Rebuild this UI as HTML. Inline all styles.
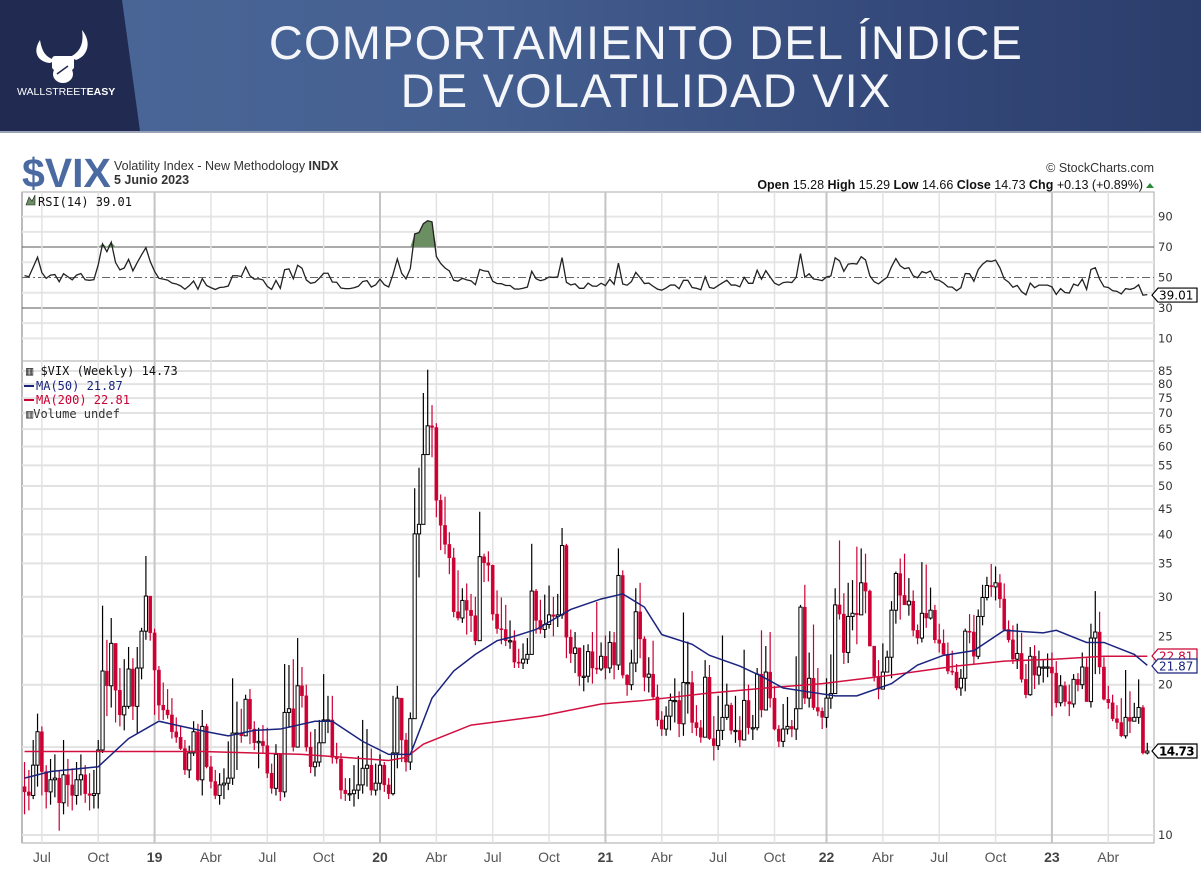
<!DOCTYPE html>
<html><head><meta charset="utf-8">
<style>
html,body{margin:0;padding:0;background:#fff;}
body{width:1201px;height:872px;position:relative;overflow:hidden;font-family:"Liberation Sans",sans-serif;}
#hdr{position:absolute;left:0;top:0;width:1201px;height:131px;background:linear-gradient(90deg,#4b6799 0%,#445f90 40%,#34497a 75%,#2b3d6b 100%);}
#hdrline{position:absolute;left:0;top:131px;width:1201px;height:2px;background:#9aa3b5;}
.t{position:absolute;left:0;width:1292px;text-align:center;color:#f4f6fa;font-size:47px;letter-spacing:1.2px;white-space:nowrap;}
</style></head>
<body>
<div id="hdr">
  <svg width="1201" height="131" style="position:absolute;left:0;top:0">
    <polygon points="0,0 122,0 140,131 0,131" fill="#212b51"/>
    <path d="M40,40 C32,52 38,62 50,63 L56,60 C46,58 42,52 40,40 Z" fill="#fff"/>
    <path d="M82,30 C92,42 88,56 76,60 L70,57 C80,52 84,44 82,30 Z" fill="#fff"/>
    <rect x="52" y="56" width="22" height="14" rx="3" fill="#fff"/>
    <ellipse cx="63" cy="74" rx="10" ry="9" fill="#fff"/>
    <path d="M57,74 L68,66" stroke="#212b51" stroke-width="1.5"/>
    <text x="17" y="95" font-family="Liberation Sans, sans-serif" font-size="10.5" fill="#fff">WALLSTREET<tspan font-weight="bold">EASY</tspan></text>
  </svg>
  <div class="t" style="top:15px">COMPORTAMIENTO DEL ÍNDICE</div>
  <div class="t" style="top:63px">DE VOLATILIDAD VIX</div>
</div>
<div id="hdrline"></div>

<svg id="chart" width="1201" height="872" style="position:absolute;left:0;top:0" font-family="Liberation Sans, sans-serif">
  <text x="22" y="187" font-size="41" font-weight="bold" fill="#4a6aa1">$VIX</text>
  <text x="114" y="170" font-size="12.5" fill="#333">Volatility Index - New Methodology  <tspan font-weight="bold">INDX</tspan></text>
  <text x="114" y="184" font-size="12.5" font-weight="bold" fill="#333">5 Junio 2023</text>
  <text x="1154" y="172" font-size="12.5" text-anchor="end" fill="#333">© StockCharts.com</text>
  <text x="1143" y="189" font-size="12.5" text-anchor="end" fill="#111"><tspan font-weight="bold">Open</tspan> 15.28  <tspan font-weight="bold">High</tspan> 15.29  <tspan font-weight="bold">Low</tspan> 14.66  <tspan font-weight="bold">Close</tspan> 14.73  <tspan font-weight="bold">Chg</tspan> +0.13 (+0.89%)</text>
  <polygon points="1146,188 1154,188 1150,183" fill="#2a8a3a"/>
  <g id="grid"></g>
  <g id="rsi"></g>
  <g id="price"></g>
  <g id="axes"></g>
</svg>

<script>
// ===== DATA (weekly, Jun 2018 – Jun 2023) =====
const closes = [
12.2,12.0,13.8,16.1, 13.4,12.2,12.9,13.0, 11.6,13.2,12.6,12.0,12.9, 13.2,12.1,12.0,12.1, 14.8,21.3,19.9,24.2, 19.5,17.4,18.1,21.5,18.1, 21.6,25.6,30.1,25.4,
21.4,18.2,17.8,17.4, 16.1,15.7,14.9,13.5, 14.6,16.1,12.9,16.5,13.7, 12.8,12.0,12.6,12.7, 13.0,16.0,16.0,15.8,18.7, 16.3,15.3,15.4,15.1, 13.3,12.4,14.5,12.2, 17.6,17.9,15.0,19.9,19.0, 15.0,13.7,14.0,15.3, 17.0,17.0,14.3,14.2, 12.3,12.1,12.1,12.3,12.6, 13.6,13.8,12.3,12.7,
13.8,12.6,12.1,14.6,18.8, 15.5,14.0,17.1,40.1, 41.9,57.8,66.0,65.5, 46.8,41.7,38.2,35.9, 28.0,27.2,29.5,28.2,27.5, 24.5,36.1,35.1,34.7, 27.7,25.9,25.8,24.5,24.5, 22.2,22.1,22.5,23.0, 30.8,26.9,25.8,26.4, 27.6,27.4,27.6,38.0, 24.9,23.1,23.7,20.8, 20.8,23.3,21.6,21.5,22.8,
21.6,24.3,21.9,33.1, 20.9,20.0,22.1,28.0, 24.7,20.7,21.0,18.9, 17.0,16.3,17.3,18.6,18.6, 16.7,20.2,20.2,16.8, 16.4,15.7,20.7,15.6, 15.1,16.2,17.2,18.2,16.2, 16.2,15.5,18.6,16.4, 16.4,21.0,17.8,21.2, 18.8,16.3,15.4,16.3, 16.5,16.3,17.9,28.6, 18.8,20.6,18.0,17.7,17.2,
18.8,19.2,28.9,27.7, 23.2,27.4,27.8,27.6, 32.0,30.8,23.9,20.8, 19.6,21.2,22.7,28.2,33.4, 30.2,28.9,29.4,25.7, 24.8,27.8,27.2,28.2, 24.6,24.2,23.0,21.3,21.2, 19.7,20.6,25.6,25.5, 22.8,27.4,29.9,31.6,31.4, 32.0,29.7,25.8,24.6, 22.5,23.1,20.5,19.1, 22.8,20.9,21.7,21.7,21.7,
21.1,18.4,19.9,18.5, 18.3,20.5,20.0,21.7, 18.5,24.8,25.5,21.7,18.7, 18.4,17.1,16.8,15.8, 17.2,16.9,17.2,18.0, 14.6,14.73
];
const highs = [
14.0,13.5,15.5,17.5, 16.5,13.8,14.2,14.5, 13.5,15.5,14.2,13.6,14.0, 14.5,13.8,13.3,13.5, 15.5,28.8,24.6,27.2, 22.4,21.6,22.5,23.8,22.6, 23.8,26.0,36.2,28.8,
25.9,21.8,20.2,19.6, 18.8,17.2,16.5,15.5, 15.1,16.9,16.7,17.8,16.7, 14.4,13.5,13.3,13.6, 15.4,20.6,18.5,17.9,19.1, 19.6,16.9,16.4,16.6, 16.4,13.9,15.2,14.2, 22.0,21.9,22.5,24.8,21.7, 20.0,16.1,16.3,17.0, 21.0,19.0,19.0,15.3, 14.6,13.0,13.0,13.8,14.4, 17.0,16.3,14.9,13.9,
14.5,14.0,13.0,19.0,19.9, 18.5,16.0,17.6,49.5, 54.4,76.8,85.5,72.6, 66.8,48.1,47.6,40.4, 37.6,33.9,31.2,31.9,30.4, 30.0,44.4,36.6,37.0, 34.8,30.9,29.9,28.9,26.9, 25.7,23.6,24.2,24.8, 38.3,31.1,29.6,30.3, 31.6,30.0,30.4,41.2, 38.3,25.8,25.5,23.7, 24.0,24.1,25.5,29.3,24.3,
25.1,25.6,25.5,37.5, 33.9,21.0,23.5,31.2, 32.0,25.0,22.7,24.5, 20.0,17.7,18.1,19.2,20.6, 19.4,27.9,24.4,21.3, 18.2,17.0,22.4,21.9, 17.3,19.0,25.1,20.1,18.4, 19.0,17.3,23.5,20.0, 17.4,21.6,25.7,23.9, 25.5,19.9,16.6,18.3, 18.9,17.0,22.8,28.9, 31.7,23.2,26.4,21.6,18.0,
20.6,23.0,31.2,38.9, 30.5,32.0,32.4,37.8, 37.5,36.6,31.0,23.9, 22.4,24.2,23.4,29.4,33.7, 35.8,36.6,32.7,30.9, 26.4,35.2,34.8,31.3, 28.9,26.5,25.8,24.3,23.4, 22.0,21.5,25.9,27.7, 27.6,28.3,31.7,32.9,34.9, 34.5,33.3,31.9,26.9, 26.3,26.5,25.4,22.0, 23.8,24.0,23.4,22.5,23.1,
23.2,22.3,20.9,20.3, 20.0,21.0,21.1,23.2, 22.6,26.5,30.8,28.0,22.7, 19.9,19.1,18.2,18.8, 21.4,19.4,18.4,20.5, 18.2,15.3
];
const lows = [
11.0,11.2,11.8,12.5, 12.0,11.3,11.5,11.9, 10.2,11.0,11.4,11.2,11.5, 12.0,11.6,11.2,11.3, 11.3,14.6,17.3,18.0, 16.8,16.5,16.2,17.9,17.0, 16.0,20.5,24.6,24.5,
17.4,17.0,17.0,17.1, 15.6,15.3,14.8,13.2, 13.0,14.4,12.8,12.0,13.6, 12.4,11.8,11.5,11.8, 12.3,12.6,13.5,15.3,15.8, 15.2,14.8,13.6,14.6, 13.0,12.1,12.0,11.7, 11.9,16.4,14.7,15.0,18.0, 14.7,13.3,13.1,13.7, 15.3,16.0,13.9,13.9, 11.8,11.7,11.7,11.4,11.8, 12.1,12.5,12.0,12.0,
12.3,12.2,11.8,12.0,13.6, 14.0,13.4,13.5,17.1, 32.8,41.9,62.1,57.1, 43.3,37.2,36.5,33.3, 27.3,26.9,26.6,25.2,25.5, 24.0,24.5,32.1,32.2, 26.9,25.3,24.1,23.9,23.6, 21.6,21.6,21.5,22.0, 23.1,25.3,25.3,24.8, 25.9,25.0,26.1,27.1, 22.6,22.1,21.1,19.9, 19.4,20.2,20.1,21.0,21.3,
20.5,21.1,20.5,21.4, 20.6,19.0,19.5,21.2, 22.6,19.4,19.3,18.7, 16.5,15.8,15.8,16.2,16.8, 15.7,15.8,17.5,16.0, 15.8,15.3,16.3,15.5, 14.1,14.8,15.5,17.0,15.9, 15.3,15.0,15.8,15.9, 15.5,16.2,17.2,17.8, 18.0,16.2,15.0,15.0, 15.9,15.7,15.5,18.0, 18.3,18.0,17.8,17.3,16.3,
16.4,17.9,20.4,27.0, 22.0,22.1,25.7,24.1, 29.6,27.8,24.4,20.3, 18.7,19.6,21.4,20.6,26.5, 27.0,28.9,27.5,25.0, 24.1,24.3,26.0,27.0, 24.2,23.2,23.0,21.0,20.9, 19.5,19.0,19.4,24.2, 22.0,22.5,26.3,29.5,30.0, 29.5,28.5,25.6,24.3, 22.0,21.5,20.2,18.8, 19.0,19.6,20.0,20.2,20.7,
17.3,18.0,18.1,18.1, 17.3,18.0,19.4,19.6, 18.5,18.0,21.0,21.0,18.6, 17.9,16.9,16.3,15.7, 15.6,16.0,16.9,16.7, 14.5,14.5
];
const firstOpen = 12.5;
// Moving averages (week index, value)
const ma50Week  = [0,6,17,24,31,35,42,47,53,59,67,71,78,84,89,94,99,104,109,113,118,126,133,138,143,147,154,158,165,170,175,180,187,192,200,206,212,219,226,235,238,245,249,256,259];
const ma50Val   = [13.0,13.4,13.7,15.6,16.9,16.6,16.1,15.8,16.2,16.3,16.9,16.9,15.4,14.5,14.5,18.8,21.3,23.0,24.5,25.0,25.8,28.3,29.7,30.4,28.6,25.2,24.1,22.9,21.8,20.8,19.7,19.4,19.0,19.0,20.1,21.9,22.9,23.4,25.7,25.4,25.7,24.3,24.3,23.0,21.87];
const ma200Week = [0,17,41,64,84,88,92,96,103,119,133,143,157,171,184,198,215,226,238,249,259];
const ma200Val  = [14.7,14.7,14.7,14.5,14.1,14.3,15.2,15.7,16.6,17.3,18.3,18.6,19.2,19.7,20.1,20.8,21.8,22.3,22.5,22.8,22.81];
// Axis ticks
const priceTicks = [10,15,20,25,30,35,40,45,50,55,60,65,70,75,80,85];
const priceLabels = [10,20,25,30,35,40,45,50,55,60,65,70,75,80,85];
const rsiTicks = [10,20,30,40,50,60,70,80,90];
const rsiLabels = [10,30,50,70,90];
const monthWeek  = [4,17,30,43,56,69,82,95,108,121,134,147,160,173,185,198,211,224,237,250];
const monthLabel = ["Jul","Oct","19","Abr","Jul","Oct","20","Abr","Jul","Oct","21","Abr","Jul","Oct","22","Abr","Jul","Oct","23","Abr"];

// ===== SCALES =====
const L=22, R=1154, RT=192, RB=361, PT=361, PB=843;
const xI = i => 380 + (i-82)*4.335;
const yP = v => 835 - 150.3*Math.log2(v/10);
const yR = v => 277.5 - (v-50)*1.5225;
const NS='http://www.w3.org/2000/svg';
function mk(tag, attrs, parent){const e=document.createElementNS(NS,tag);for(const k in attrs)e.setAttribute(k,attrs[k]);parent.appendChild(e);return e;}
const grid=document.getElementById('grid'), rsiG=document.getElementById('rsi'), priceG=document.getElementById('price'), axes=document.getElementById('axes');

let e;
e=mk('rect',{x:L,y:RT,width:R-L,height:RB-RT,fill:'#fff',stroke:'#aaa','stroke-width':1},grid);


e=mk('rect',{x:L,y:PT,width:R-L,height:PB-PT,fill:'#fff',stroke:'#aaa','stroke-width':1},grid);


mk('line',{x1:L,y1:RT,x2:L,y2:PB,stroke:'#bbb','stroke-width':2},grid);

rsiTicks.forEach(v=>{
  const y=yR(v);
  const dark=(v===30||v===70);
  e=mk('line',{x1:L,y1:y,x2:R,y2:y,stroke:dark?'#555':(v===50?'#666':'#e6e6e6'),'stroke-width':dark?1:(v===50?1:2),'stroke-dasharray':v===50?'8,3,2,3':'none'},grid);
  
  
});
priceTicks.forEach(v=>{
  const y=yP(v);
  e=mk('line',{x1:L,y1:y,x2:R,y2:y,stroke:'#e2e2e2','stroke-width':2},grid);
  
  
});
monthWeek.forEach((w,k)=>{
  const x=xI(w); const yr=/^\d/.test(monthLabel[k]);
  e=mk('line',{x1:x,y1:RT,x2:x,y2:PB,stroke:yr?'#c4c4c4':'#e2e2e2','stroke-width':yr?2:1.5},grid);
  
  
  e=mk('text',{x:x,y:862,'text-anchor':'middle','font-size':14,fill:yr?'#444':'#555','font-weight':yr?'bold':'normal'},axes);
  e.textContent=monthLabel[k];
  
  
});
rsiLabels.forEach(v=>{
  e=mk('text',{x:1158,y:yR(v)+4,'font-size':11.5,fill:'#333','font-family':'DejaVu Sans, sans-serif'},axes);
  e.textContent=v;
  
  
});
priceLabels.forEach(v=>{
  e=mk('text',{x:1158,y:yP(v)+4,'font-size':11.5,fill:'#333','font-family':'DejaVu Sans, sans-serif'},axes);
  e.textContent=v;
  
  
});

// ===== RSI (Wilder, seeded with average of first 14 moves) =====
const diffs=closes.map((c,i)=>c-(i===0?firstOpen:closes[i-1]));
let ag=0, al=0;
for(let i=0;i<14;i++){ag+=Math.max(diffs[i],0)/14; al+=Math.max(-diffs[i],0)/14;}
const rsi=[];
for(let i=0;i<closes.length;i++){
  const g=Math.max(diffs[i],0), l=Math.max(-diffs[i],0);
  ag=(ag*13+g)/14; al=(al*13+l)/14;
  rsi.push(al===0?100:100-100/(1+ag/al));
}
let seg=[]; const segs=[];
for(let i=0;i<rsi.length;i++){ if(rsi[i]>70){seg.push(i);} else if(seg.length){segs.push(seg);seg=[];} }
if(seg.length)segs.push(seg);
segs.forEach(s=>{
  const a=Math.max(s[0]-1,0), b=Math.min(s[s.length-1]+1,rsi.length-1);
  let pts=`${xI(a)},${yR(70)} `;
  for(let i=a+1;i<b;i++)pts+=`${xI(i)},${yR(rsi[i])} `;
  pts+=`${xI(b)},${yR(70)}`;
  e=mk('polygon',{points:pts,fill:'#6b8f62',stroke:'none'},rsiG);
  
  
});
e=mk('polyline',{points:rsi.map((v,i)=>`${xI(i)},${yR(v)}`).join(' '),fill:'none',stroke:'#222','stroke-width':1.3},rsiG);



// ===== Candles =====
for(let i=0;i<closes.length;i++){
  const o=i===0?firstOpen:closes[i-1], c=closes[i], h=highs[i], lo=lows[i];
  const x=xI(i); const up=c>=o; const col=up?'#000':'#cc0033';
  const g=mk('g',{},priceG);
  
  
  mk('line',{x1:x,y1:yP(h),x2:x,y2:yP(lo),stroke:col,'stroke-width':1.2},g);
  const yt=yP(Math.max(o,c)), yb=yP(Math.min(o,c));
  mk('rect',{x:x-1.6,y:yt,width:3.2,height:Math.max(yb-yt,1.2),fill:up?'#fff':col,stroke:col,'stroke-width':up?1:0.4},g);
}
e=mk('polyline',{points:ma200Week.map((w,k)=>`${xI(w)},${yP(ma200Val[k])}`).join(' '),fill:'none',stroke:'#d21040','stroke-width':1.5},priceG);


e=mk('polyline',{points:ma50Week.map((w,k)=>`${xI(w)},${yP(ma50Val[k])}`).join(' '),fill:'none',stroke:'#1a237e','stroke-width':1.5},priceG);



function tag(y,txt,col,bold,name){
  const g=mk('g',{},axes);
  
  
  mk('polygon',{points:`1152,${y} 1158,${y-7} 1197,${y-7} 1197,${y+7} 1158,${y+7}`,fill:'#fff',stroke:col,'stroke-width':1.2},g);
  const t=mk('text',{x:1159,y:y+4.5,'font-size':12,'font-weight':bold?'bold':'normal',fill:col,'font-family':'DejaVu Sans, sans-serif','letter-spacing':bold?-0.6:0},g);
  t.textContent=txt;
}
tag(yR(rsi[rsi.length-1])+0.5,'39.01','#000',false,'rsi-value-tag');
tag(656,'22.81','#cc0033',false,'ma200-value-tag');
tag(666,'21.87','#1a237e',false,'ma50-value-tag');
tag(yP(14.73),'14.73','#000',true,'last-price-tag');

function leg(x,y,txt,col,name){
  const t=mk('text',{x:x,y:y,'font-size':12,fill:col,'font-family':'DejaVu Sans Mono, monospace'},axes);
  t.textContent=txt;
  
  
}
mk('polygon',{points:'26,205 29,197 32,201 35,195 35,205',fill:'#6b8f62',stroke:'#222','stroke-width':0.6},axes);
leg(38,206,'RSI(14) 39.01','#111','rsi-legend');
leg(26,375,'▥ $VIX (Weekly) 14.73','#111','price-legend');
mk('line',{x1:24,y1:386,x2:34,y2:386,stroke:'#1a237e','stroke-width':2},axes);
leg(36,390,'MA(50) 21.87','#1a237e','ma50-legend');
mk('line',{x1:24,y1:400,x2:34,y2:400,stroke:'#cc0033','stroke-width':2},axes);
leg(36,404,'MA(200) 22.81','#cc0033','ma200-legend');
leg(26,418,'▥Volume undef','#333','volume-legend');
</script>
</body></html>
